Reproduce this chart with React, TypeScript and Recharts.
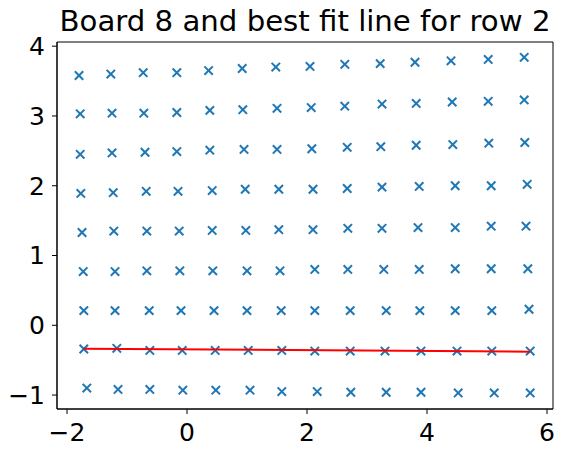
import { ScatterChart, Scatter, XAxis, YAxis, ReferenceArea } from "recharts";

// board 8 points (top row first)
const row0X = [-1.8, -1.27, -0.73, -0.17, 0.36, 0.92, 1.48, 2.05, 2.63, 3.22, 3.8, 4.4, 5.02, 5.62];
const row0Y = [3.58, 3.6, 3.62, 3.62, 3.65, 3.68, 3.7, 3.71, 3.74, 3.75, 3.77, 3.79, 3.81, 3.84];
const row1X = [-1.78, -1.25, -0.72, -0.17, 0.38, 0.93, 1.5, 2.07, 2.63, 3.25, 3.82, 4.42, 5.02, 5.62];
const row1Y = [3.03, 3.04, 3.04, 3.05, 3.08, 3.09, 3.11, 3.12, 3.14, 3.17, 3.18, 3.2, 3.21, 3.23];
const row2X = [-1.78, -1.25, -0.7, -0.17, 0.38, 0.95, 1.5, 2.08, 2.67, 3.23, 3.82, 4.43, 5.03, 5.63];
const row2Y = [2.45, 2.47, 2.48, 2.49, 2.51, 2.52, 2.52, 2.53, 2.55, 2.56, 2.58, 2.59, 2.61, 2.62];
const row3X = [-1.77, -1.23, -0.68, -0.15, 0.42, 0.97, 1.53, 2.1, 2.67, 3.25, 3.87, 4.47, 5.07, 5.67];
const row3Y = [1.89, 1.9, 1.92, 1.92, 1.93, 1.95, 1.95, 1.95, 1.96, 1.98, 1.99, 2.0, 2.0, 2.02];
const row4X = [-1.75, -1.22, -0.67, -0.13, 0.42, 0.98, 1.53, 2.1, 2.68, 3.25, 3.85, 4.47, 5.07, 5.65];
const row4Y = [1.33, 1.35, 1.35, 1.35, 1.36, 1.36, 1.37, 1.37, 1.39, 1.39, 1.4, 1.4, 1.42, 1.42];
const row5X = [-1.73, -1.2, -0.67, -0.12, 0.43, 1.0, 1.55, 2.13, 2.68, 3.28, 3.87, 4.47, 5.07, 5.68];
const row5Y = [0.77, 0.77, 0.78, 0.78, 0.78, 0.78, 0.78, 0.8, 0.8, 0.8, 0.8, 0.81, 0.81, 0.81];
const row6X = [-1.72, -1.2, -0.63, -0.1, 0.45, 1.0, 1.57, 2.13, 2.72, 3.32, 3.88, 4.47, 5.08, 5.7];
const row6Y = [0.21, 0.21, 0.21, 0.21, 0.21, 0.21, 0.21, 0.21, 0.21, 0.21, 0.21, 0.21, 0.21, 0.23];
const row7X = [-1.72, -1.17, -0.62, -0.08, 0.47, 1.02, 1.58, 2.13, 2.72, 3.3, 3.9, 4.5, 5.08, 5.72];
const row7Y = [-0.34, -0.33, -0.36, -0.36, -0.36, -0.36, -0.36, -0.37, -0.37, -0.37, -0.37, -0.37, -0.37, -0.37];
const row8X = [-1.67, -1.15, -0.62, -0.07, 0.48, 1.05, 1.58, 2.17, 2.73, 3.32, 3.9, 4.52, 5.12, 5.72];
const row8Y = [-0.9, -0.92, -0.92, -0.93, -0.93, -0.93, -0.95, -0.95, -0.96, -0.96, -0.96, -0.97, -0.97, -0.97];

const rowsX = [row0X, row1X, row2X, row3X, row4X, row5X, row6X, row7X, row8X];
const rowsY = [row0Y, row1Y, row2Y, row3Y, row4Y, row5Y, row6Y, row7Y, row8Y];

// fit line end points
const fitX = [-1.72, 5.72];
const fitY = [-0.335, -0.378];

const xTicks = [-2, 0, 2, 4, 6];
const yTicks = [-1, 0, 1, 2, 3, 4];

const points = rowsX.flatMap((xs, r) => xs.map((x, i) => ({ x, y: rowsY[r][i] })));
const fitLine = fitX.map((x, i) => ({ x, y: fitY[i] }));

const FONT = "'DejaVu Sans', sans-serif";
const BLUE = "#1f77b4";

const Cross = (props: any) => {
  const { cx, cy } = props;
  const r = 4.2;
  return (
    <g stroke={BLUE} strokeWidth={2}>
      <line x1={cx - r} y1={cy - r} x2={cx + r} y2={cy + r} />
      <line x1={cx - r} y1={cy + r} x2={cx + r} y2={cy - r} />
    </g>
  );
};

const tickStyle = { fill: "#000", fontSize: 25, fontFamily: FONT };
const fmt = (v: number) => (v < 0 ? "\u2212" + Math.abs(v) : String(v));

export default function App() {
  return (
    <div style={{ position: "relative", width: 559, height: 446, fontFamily: FONT }}>
      <div
        style={{
          position: "absolute",
          left: 49,
          top: -1,
          width: 496,
          textAlign: "center",
          fontSize: 29.2,
          lineHeight: "29.2px",
          color: "#000",
          whiteSpace: "nowrap",
        }}
      >
        Board 8 and best fit line for row 2
      </div>
      <ScatterChart width={559} height={446} margin={{ top: 34, right: 14, bottom: 15, left: 0 }}>
        <XAxis
          type="number"
          dataKey="x"
          domain={[-2.167, 6.1]}
          ticks={xTicks}
          allowDataOverflow
          height={30}
          tickSize={5}
          tickMargin={9}
          tick={tickStyle}
          stroke="#000"
          tickLine={{ stroke: "#000" }}
          tickFormatter={fmt}
        />
        <YAxis
          type="number"
          dataKey="y"
          domain={[-1.2, 4.06]}
          ticks={yTicks}
          allowDataOverflow
          width={49}
          tickSize={5}
          tickMargin={7}
          tick={tickStyle}
          stroke="#000"
          tickLine={{ stroke: "#000" }}
          tickFormatter={fmt}
        />
        <ReferenceArea x1={-2.167} x2={6.1} y1={-1.2} y2={4.06} fill="none" stroke="#000" strokeWidth={1} ifOverflow="extendDomain" />
        <Scatter data={points} shape={Cross} isAnimationActive={false} />
        <Scatter
          data={fitLine}
          line={{ stroke: "#ff0000", strokeWidth: 2 }}
          shape={() => <g />}
          isAnimationActive={false}
        />
      </ScatterChart>
    </div>
  );
}
